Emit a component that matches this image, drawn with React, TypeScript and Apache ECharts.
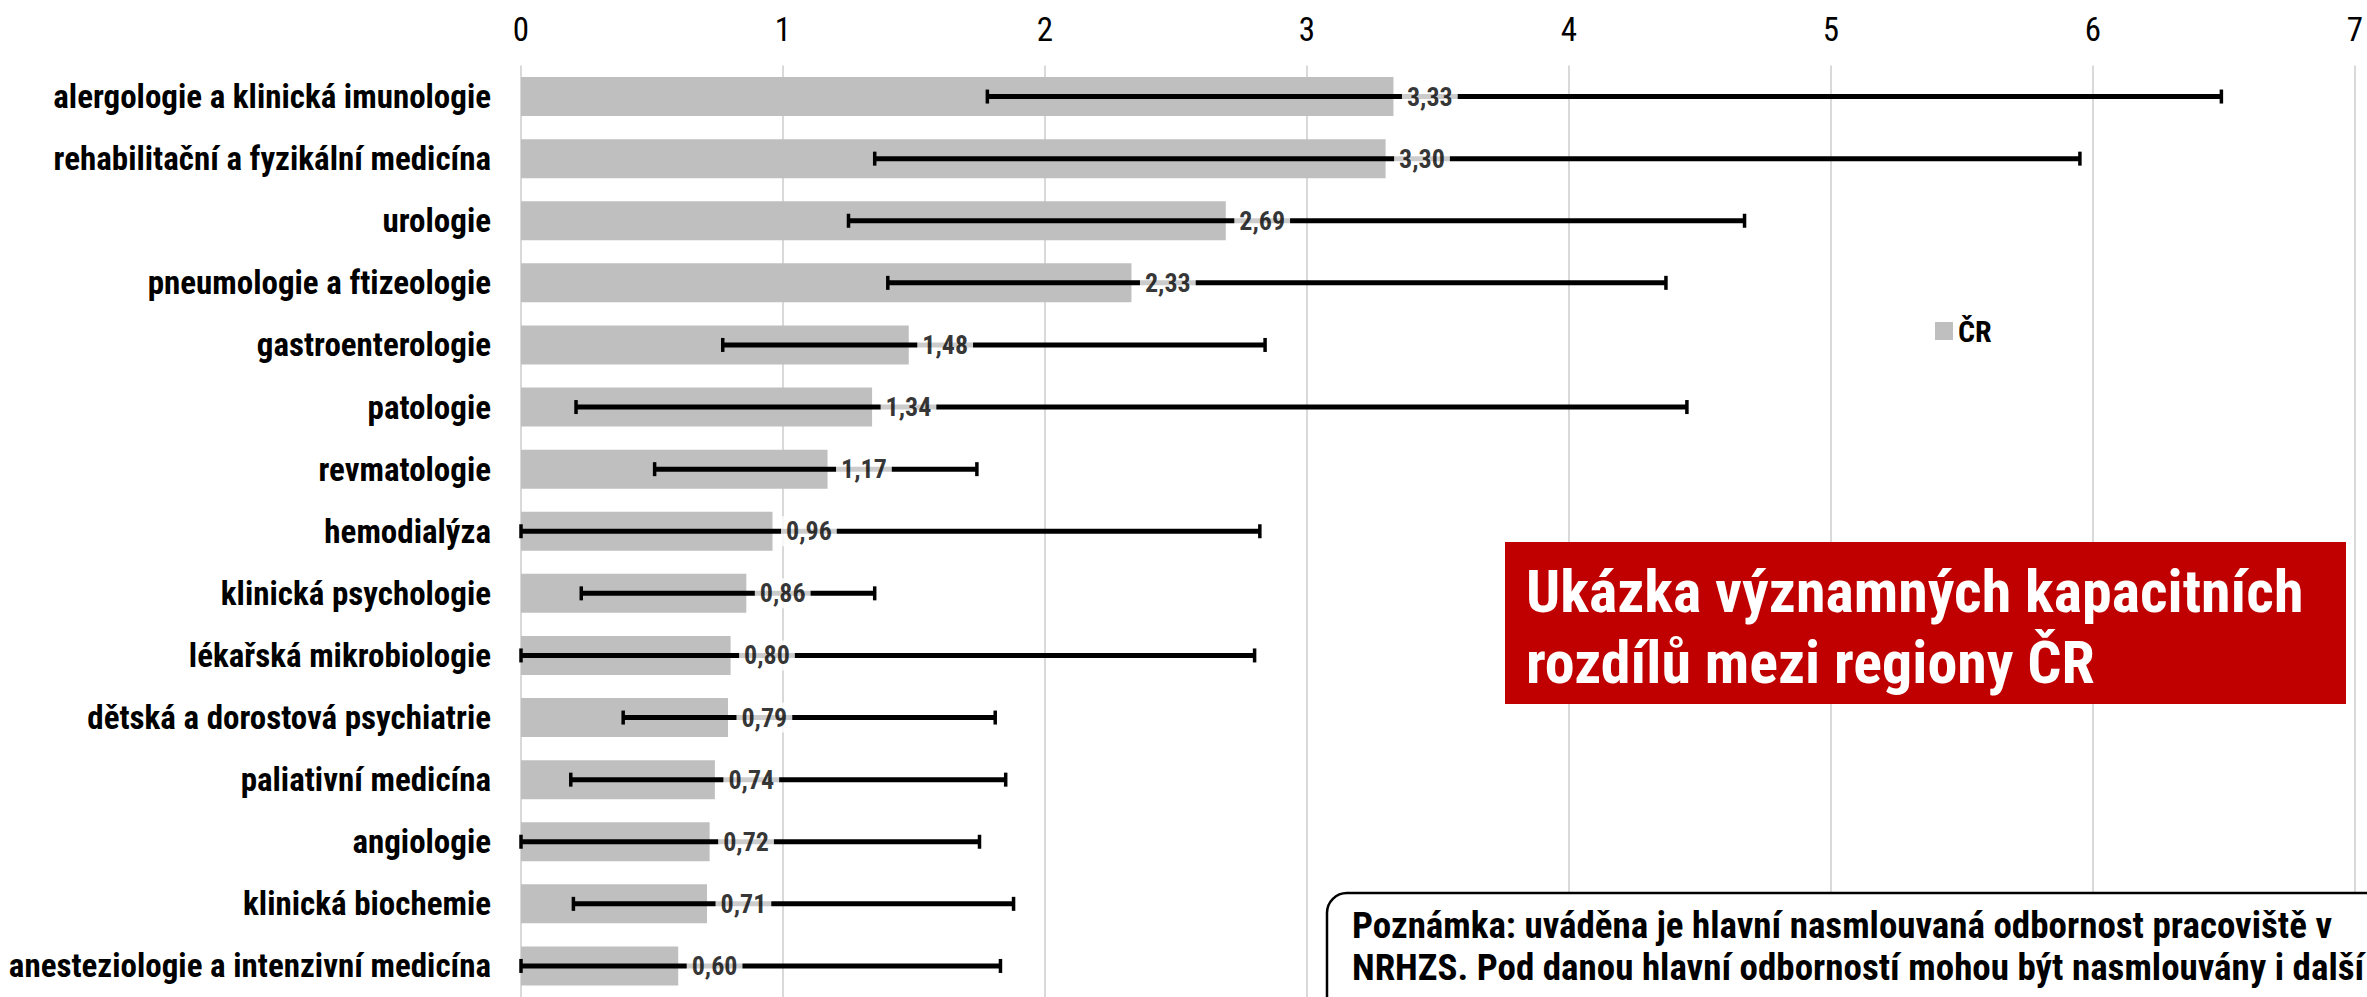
import React, { useEffect, useRef } from "react";
import * as echarts from "echarts";

const categories = [
  "alergologie a klinická imunologie",
  "rehabilitační a fyzikální medicína",
  "urologie",
  "pneumologie a ftizeologie",
  "gastroenterologie",
  "patologie",
  "revmatologie",
  "hemodialýza",
  "klinická psychologie",
  "lékařská mikrobiologie",
  "dětská a dorostová psychiatrie",
  "paliativní medicína",
  "angiologie",
  "klinická biochemie",
  "anesteziologie a intenzivní medicína",
];
const crValues = [3.33, 3.3, 2.69, 2.33, 1.48, 1.34, 1.17, 0.96, 0.86, 0.8, 0.79, 0.74, 0.72, 0.71, 0.6];
const minValues = [1.78, 1.35, 1.25, 1.4, 0.77, 0.21, 0.51, 0.0, 0.23, 0.0, 0.39, 0.19, 0.0, 0.2, 0.0];
const maxValues = [6.49, 5.95, 4.67, 4.37, 2.84, 4.45, 1.74, 2.82, 1.35, 2.8, 1.81, 1.85, 1.75, 1.88, 1.83];
const xTicks = { min: 0, max: 7, interval: 1 };
const seriesName = "ČR";
const titleLines = ["Ukázka významných kapacitních", "rozdílů mezi regiony ČR"];
const noteLines = [
  "Poznámka: uváděna je hlavní nasmlouvaná odbornost pracoviště v",
  "NRHZS. Pod danou hlavní odborností mohou být nasmlouvány i další odbornosti.",
];

const FONT = "'Roboto Condensed', 'DejaVu Sans Condensed', sans-serif";

export default function App() {
  const ref = useRef<HTMLDivElement>(null);
  useEffect(() => {
    if (!ref.current) return;
    const chart = echarts.init(ref.current, null, { renderer: "svg" });
    const errData = categories.map((_, i) => [i, minValues[i], maxValues[i]]);
    const labelData = crValues.map((v, i) => [v, i]);
    const option: any = {
      animation: false,
      backgroundColor: "#ffffff",
      textStyle: { fontFamily: FONT },
      grid: { left: 521, right: 12, top: 65.5, bottom: 0, containLabel: false, outerBoundsMode: "none" },
      legend: {
        data: [{ name: seriesName, icon: "rect" }],
        left: 1930,
        top: 311,
        itemWidth: 18,
        itemHeight: 18,
        textStyle: { fontFamily: FONT, fontWeight: "bold", fontSize: 30, color: "#000" },
      },
      xAxis: {
        type: "value",
        position: "top",
        min: xTicks.min,
        max: xTicks.max,
        interval: xTicks.interval,
        axisLine: { show: false },
        axisTick: { show: false },
        axisLabel: { fontSize: 33, color: "#000", margin: 20, fontFamily: FONT },
        splitLine: { show: true, lineStyle: { color: "#d9d9d9", width: 2 } },
      },
      yAxis: {
        type: "category",
        inverse: true,
        data: categories,
        axisLine: { show: false },
        axisTick: { show: false },
        axisLabel: { fontSize: 33, fontWeight: "bold", color: "#000", margin: 30, fontFamily: FONT },
      },
      series: [
        {
          name: seriesName,
          type: "bar",
          data: crValues,
          barWidth: 39,
          itemStyle: { color: "#bfbfbf" },
          z: 2,
        },
        {
          type: "custom",
          name: "err",
          data: errData,
          encode: { x: [1, 2], y: 0 },
          z: 3,
          renderItem: (params: any, api: any) => {
            const cat = api.value(0);
            const lo = api.coord([api.value(1), cat]);
            const hi = api.coord([api.value(2), cat]);
            const h = 7;
            const style = { stroke: "#000", lineWidth: 5 };
            return {
              type: "group",
              children: [
                { type: "line", shape: { x1: lo[0], y1: lo[1], x2: hi[0], y2: hi[1] }, style },
                { type: "line", shape: { x1: lo[0], y1: lo[1] - h, x2: lo[0], y2: lo[1] + h }, style: { stroke: "#000", lineWidth: 3.5 } },
                { type: "line", shape: { x1: hi[0], y1: hi[1] - h, x2: hi[0], y2: hi[1] + h }, style: { stroke: "#000", lineWidth: 3.5 } },
              ],
            };
          },
        },
        {
          type: "scatter",
          name: "labels",
          data: labelData,
          symbolSize: 1,
          itemStyle: { color: "rgba(0,0,0,0)" },
          z: 4,
          silent: true,
          label: {
            show: true,
            position: "right",
            distance: 8,
            formatter: (p: any) => p.value[0].toFixed(2).replace(".", ","),
            fontFamily: FONT,
            fontWeight: "bold",
            fontSize: 26,
            color: "#000",
            backgroundColor: "#ffffff",
            padding: [2, 5, 2, 5],
          },
        },
      ],
      graphic: [
        {
          type: "rect",
          shape: { x: 1505, y: 542, width: 841, height: 162 },
          style: { fill: "#C00000" },
          z: 50,
        },
        {
          type: "text",
          x: 1526,
          y: 591,
          style: {
            text: titleLines[0],
            fill: "#ffffff",
            font: `bold 60px ${FONT}`,
            verticalAlign: "middle",
          },
          z: 51,
        },
        {
          type: "text",
          x: 1526,
          y: 662,
          style: {
            text: titleLines[1],
            fill: "#ffffff",
            font: `bold 60px ${FONT}`,
            verticalAlign: "middle",
          },
          z: 51,
        },
        {
          type: "rect",
          shape: { x: 1327, y: 893, width: 1200, height: 200, r: 20 },
          style: { fill: "#ffffff", stroke: "#000", lineWidth: 2.5 },
          z: 50,
        },
        {
          type: "text",
          x: 1352,
          y: 925,
          style: { text: noteLines[0], fill: "#000", font: `bold 37px ${FONT}`, verticalAlign: "middle" },
          z: 51,
        },
        {
          type: "text",
          x: 1352,
          y: 967,
          style: { text: noteLines[1], fill: "#000", font: `bold 37px ${FONT}`, verticalAlign: "middle" },
          z: 51,
        },
      ],
    };
    chart.setOption(option);
    return () => chart.dispose();
  }, []);
  return (
    <div
      ref={ref}
      style={{ position: "absolute", left: 0, top: 0, width: 2367, height: 997, background: "#fff" }}
    />
  );
}
